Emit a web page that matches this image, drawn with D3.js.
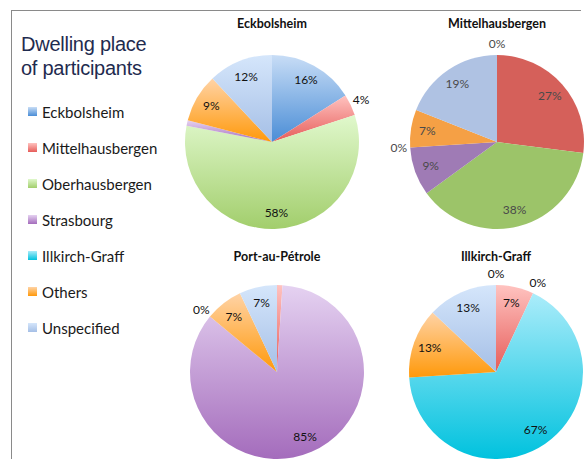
<!DOCTYPE html>
<html>
<head>
<meta charset="utf-8">
<script src="https://cdn.jsdelivr.net/npm/d3@7"></script>
<style>
  html, body { margin: 0; padding: 0; background: #fff; }
  svg { display: block; }
</style>
</head>
<body>
<div id="chart"></div>
<script>
// categories, in slice order (clockwise from 12 o'clock)
const categories = ['Eckbolsheim', 'Mittelhausbergen', 'Oberhausbergen', 'Strasbourg', 'Illkirch-Graff', 'Others', 'Unspecified']

// percent of participants per category, one array per pie
const eckbolsheimValues = [16, 4, 58, 1, 0, 9, 12]
const mittelhausbergenValues = [0, 27, 38, 9, 0, 7, 19]
const portAuPetroleValues = [0, 1, 0, 85, 0, 7, 7]
const illkirchValues = [0, 7, 0, 0, 67, 13, 13]

const pieTitles = ['Eckbolsheim', 'Mittelhausbergen', 'Port-au-Pétrole', 'Illkirch-Graff']

// data labels that the source chart leaves out
const eckbolsheimHidden = ['Strasbourg', 'Illkirch-Graff']
const mittelhausbergenHidden = []
const portAuPetroleHidden = ['Eckbolsheim', 'Mittelhausbergen', 'Oberhausbergen']
const illkirchHidden = ['Strasbourg']

const titleLines = ['Dwelling place', 'of participants']

// gradient colours (top -> bottom) for the glossy pies, flat for the second one
const gradTop = ['#c8ddf6', '#ffc3c0', '#e0f8cc', '#e5d2f1', '#abecfa', '#ffd3a6', '#d5e6fb']
const gradBottom = ['#4a8dd6', '#e65c59', '#a2ce6c', '#a46cbc', '#00c2de', '#ff990a', '#a5bfe6']
const flatColors = ['#4f81bd', '#d5605a', '#9cc469', '#9f7bb5', '#4bacc6', '#f5a045', '#afc2e3']

const W = 586, H = 459
const R = 87

const pies = [
  { title: pieTitles[0], values: eckbolsheimValues, hidden: eckbolsheimHidden, cx: 272, cy: 142, ty: 28, flat: false },
  { title: pieTitles[1], values: mittelhausbergenValues, hidden: mittelhausbergenHidden, cx: 497, cy: 142, ty: 28, flat: true },
  { title: pieTitles[2], values: portAuPetroleValues, hidden: portAuPetroleHidden, cx: 277, cy: 372, ty: 261, flat: false },
  { title: pieTitles[3], values: illkirchValues, hidden: illkirchHidden, cx: 496, cy: 372, ty: 261, flat: false }
]

const svg = d3.select('#chart').append('svg').attr('width', W).attr('height', H)

const defs = svg.append('defs')
categories.forEach((c, i) => {
  const lg = defs.append('linearGradient')
    .attr('id', 'grad' + i)
    .attr('x1', 0).attr('y1', 0).attr('x2', 0).attr('y2', 1)
  lg.append('stop').attr('offset', '0%').attr('stop-color', gradTop[i])
  lg.append('stop').attr('offset', '100%').attr('stop-color', gradBottom[i])
})

// frame
svg.append('line')
  .attr('x1', 11).attr('x2', 581).attr('y1', 10.5).attr('y2', 10.5)
  .attr('stroke', '#8a8a8a').attr('stroke-width', 1)
svg.append('line')
  .attr('x1', 11.5).attr('x2', 11.5).attr('y1', 10).attr('y2', H)
  .attr('stroke', '#8a8a8a').attr('stroke-width', 1)

// big title
svg.append('g').selectAll('text')
  .data(titleLines)
  .join('text')
  .attr('x', 21)
  .attr('y', (d, i) => 51 + i * 24)
  .attr('font-family', 'Liberation Sans, Arial, sans-serif')
  .attr('font-size', 20)
  .attr('letter-spacing', -0.25)
  .attr('fill', '#1f2b4f')
  .text(d => d)

// legend
const legend = svg.append('g')
const legendY = d3.scalePoint().domain(categories).range([117.5, 333.5])
legend.selectAll('rect')
  .data(categories)
  .join('rect')
  .attr('x', 28)
  .attr('y', d => legendY(d) - 10.5)
  .attr('width', 9)
  .attr('height', 9)
  .attr('fill', (d, i) => `url(#grad${i})`)
legend.selectAll('text')
  .data(categories)
  .join('text')
  .attr('x', 42)
  .attr('y', d => legendY(d))
  .attr('font-family', 'Lato, sans-serif')
  .attr('font-size', 15)
  .attr('fill', '#1a1a1a')
  .text(d => d)

// pies
const pie = d3.pie().sort(null).value(d => d.value)
const arc = d3.arc().innerRadius(0).outerRadius(R)
const inLabel = d3.arc().innerRadius(R * 0.81).outerRadius(R * 0.81)
const outLabel = d3.arc().innerRadius(R * 1.13).outerRadius(R * 1.13)

pies.forEach(p => {
  const rows = categories.map((c, i) => ({ name: c, idx: i, value: p.values[i] }))
  const arcs = pie(rows)
  const g = svg.append('g').attr('transform', `translate(${p.cx},${p.cy})`)

  g.selectAll('path')
    .data(arcs.filter(a => a.data.value > 0))
    .join('path')
    .attr('d', arc)
    .attr('fill', a => p.flat ? flatColors[a.data.idx] : `url(#grad${a.data.idx})`)

  g.selectAll('text')
    .data(arcs.filter(a => !p.hidden.includes(a.data.name)))
    .join('text')
    .attr('transform', a => `translate(${(a.data.value < 5 ? outLabel : inLabel).centroid(a)})`)
    .attr('dy', '0.35em')
    .attr('text-anchor', 'middle')
    .attr('font-family', 'Lato, sans-serif')
    .attr('font-size', 12)
    .attr('fill', p.flat ? '#4a4a4a' : '#111')
    .text(a => a.data.value + '%')

  svg.append('text')
    .attr('x', p.cx)
    .attr('y', p.ty)
    .attr('text-anchor', 'middle')
    .attr('font-family', 'Lato, sans-serif')
    .attr('font-weight', 700)
    .attr('font-size', 12.5)
    .attr('fill', '#111')
    .text(p.title)
})
</script>
</body>
</html>
